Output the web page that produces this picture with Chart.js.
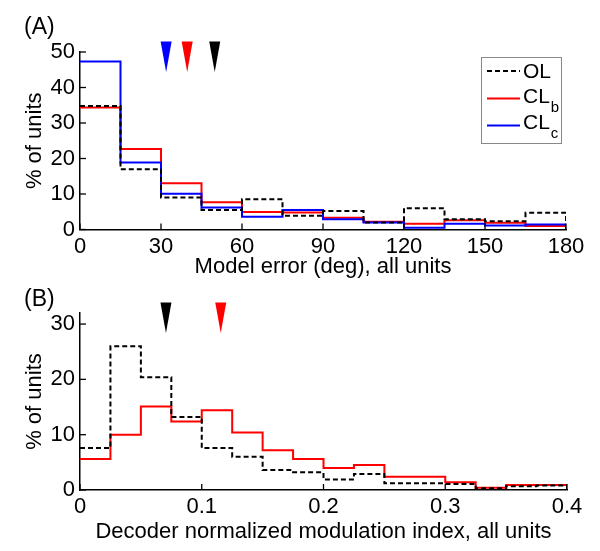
<!DOCTYPE html>
<html><head><meta charset="utf-8">
<script src="https://cdn.jsdelivr.net/npm/chart.js@4"></script>
<style>
html,body{margin:0;padding:0;background:#fff;overflow:hidden}
#ca{position:absolute;left:0;top:0}
#cb{position:absolute;left:0;top:284px}
</style>
</head><body>
<canvas id="ca" width="600" height="284"></canvas>
<canvas id="cb" width="600" height="267"></canvas>
<script>
// ---------- data ----------
const binEdgesA = [0,15,30,45,60,75,90,105,120,135,150,165,180];
const olA  = [34.8,17.0,9.0,5.5,8.5,3.9,5.2,2.0,6.0,2.9,2.3,4.7];
const clbA = [34.4,22.7,13.0,7.7,4.9,4.8,3.3,2.2,1.6,2.6,1.9,1.0];
const clcA = [47.3,18.9,10.1,6.2,3.6,5.5,2.9,2.0,0.5,1.6,1.1,1.4];
const medianA = [49.9,39.7,31.9];          // OL, CLb, CLc
const binEdgesB = [0,0.025,0.05,0.075,0.1,0.125,0.15,0.175,0.2,0.225,0.25,0.275,0.3,0.325,0.35,0.375,0.4];
const olB  = [7.6,26.0,20.4,13.2,7.6,6.0,3.6,3.2,1.9,2.9,1.2,1.2,1.1,0.3,0.7,0.8];
const clbB = [5.6,10.0,15.1,12.4,14.4,10.4,7.2,5.6,4.0,4.5,2.4,2.4,1.4,0.4,0.9,0.9];
const medianB = [0.0706,0.1156];           // OL, CLb
const ticksA_x = [0,30,60,90,120,150,180];
const ticksB_x = [0,0.1,0.2,0.3,0.4];

// ---------- helpers ----------
const FONT = "'Liberation Sans', Arial, sans-serif";
Chart.defaults.color = '#000';
Chart.defaults.font.family = FONT;
const COL = {OL:'#000000', CLb:'#ff0000', CLc:'#0000ff'};

function stairs(edges, vals){
  const pts = [];
  for (let i=0;i<vals.length;i++) pts.push({x:edges[i], y:vals[i]});
  pts.push({x:edges[edges.length-1], y:0});
  return pts;
}
function ds(label, edges, vals, color, dash){
  return {label, data: stairs(edges, vals), borderColor: color, borderWidth: 2,
    borderDash: dash?[5,3]:[], stepped: true, pointRadius: 0, fill: false, tension: 0};
}

const inwardTicks = {
  id: 'inwardTicks',
  afterDraw(chart){
    const {ctx, chartArea:a, scales:{x,y}} = chart;
    ctx.save(); ctx.strokeStyle='#000'; ctx.lineWidth=1.3;
    x.ticks.forEach(t=>{const p=x.getPixelForValue(t.value); ctx.beginPath(); ctx.moveTo(p,a.bottom); ctx.lineTo(p,a.bottom-6); ctx.stroke();});
    y.ticks.forEach(t=>{const p=y.getPixelForValue(t.value); ctx.beginPath(); ctx.moveTo(a.left,p); ctx.lineTo(a.left+6,p); ctx.stroke();});
    ctx.restore();
  }
};
const arrows = {
  id: 'arrows',
  afterDraw(chart, args, opts){
    const {ctx, chartArea:a, scales:{x}} = chart;
    ctx.save();
    opts.values.forEach((v,i)=>{
      const p = x.getPixelForValue(v);
      ctx.fillStyle = opts.colors[i];
      ctx.beginPath(); ctx.moveTo(p-5.5, a.top-10.5); ctx.lineTo(p+5.5, a.top-10.5); ctx.lineTo(p, a.top+20); ctx.closePath(); ctx.fill();
    });
    ctx.restore();
  }
};
const panelLabel = {
  id: 'panelLabel',
  afterDraw(chart, args, opts){
    const ctx = chart.ctx; ctx.save();
    ctx.font = '23px ' + FONT; ctx.fillStyle='#000'; ctx.textBaseline='middle'; ctx.textAlign='left';
    ctx.fillText(opts.text, 24, opts.y); ctx.restore();
  }
};
const customLegend = {
  id: 'customLegend',
  afterDraw(chart, args, opts){
    if (!opts.show) return;
    const ctx = chart.ctx; ctx.save();
    ctx.fillStyle='#fff'; ctx.fillRect(481,57,81,87);
    ctx.strokeStyle='#888'; ctx.lineWidth=1; ctx.strokeRect(481.5,57.5,80,86);
    const items = [
      {main:'OL', sub:'', color:COL.OL, dash:[5,3], ly:71, ty:72},
      {main:'CL', sub:'b', color:COL.CLb, dash:[], ly:98.5, ty:97},
      {main:'CL', sub:'c', color:COL.CLc, dash:[], ly:125.5, ty:123}
    ];
    items.forEach(it=>{
      ctx.strokeStyle=it.color; ctx.lineWidth=2; ctx.setLineDash(it.dash);
      ctx.beginPath(); ctx.moveTo(487,it.ly); ctx.lineTo(520,it.ly); ctx.stroke(); ctx.setLineDash([]);
      ctx.fillStyle='#000'; ctx.textBaseline='middle'; ctx.textAlign='left';
      ctx.font='21px '+FONT; ctx.fillText(it.main, 523, it.ty);
      if (it.sub){ const w=ctx.measureText(it.main).width; ctx.font='15px '+FONT; ctx.fillText(it.sub, 523+w+1, it.ty+11); }
    });
    ctx.restore();
  }
};

function makeChart(canvas, cfg){
  return new Chart(canvas, {
    type: 'line',
    data: {datasets: cfg.datasets},
    options: {
      responsive: false, animation: false, devicePixelRatio: 1,
      layout: {padding: {top: cfg.padTop, right: cfg.padRight, left: 0, bottom: 0}},
      plugins: {legend:{display:false}, tooltip:{enabled:false},
        arrows: cfg.arrows, panelLabel: cfg.label, customLegend: {show: cfg.legend}},
      scales: {
        x: {type:'linear', min: cfg.xmin, max: cfg.xmax,
          afterBuildTicks: s => { s.ticks = cfg.xticks.map(v=>({value:v})); },
          ticks: {font:{size:22}, color:'#000', padding:4, maxRotation:0, autoSkip:false,
            callback: v => String(Math.round(v*100)/100)},
          grid: {display:false, drawTicks:false},
          border: {display:true, color:'#000', width:1.5},
          title: {display:true, text: cfg.xtitle, font:{size:22}, color:'#000', padding:{top:0,bottom:cfg.xtitlePad}},
          afterFit: s => { s.height = cfg.xHeight; }
        },
        y: {type:'linear', min: 0, max: cfg.ymax,
          ticks: {stepSize:10, includeBounds:false, font:{size:22}, color:'#000', padding:5},
          grid: {display:false, drawTicks:false},
          border: {display:true, color:'#000', width:1.5},
          title: {display:true, text:'% of units', font:{size:22}, color:'#000', padding:{top:22,bottom:0}},
          afterFit: s => { s.width = 80; }
        }
      }
    },
    plugins: [inwardTicks, arrows, panelLabel, customLegend]
  });
}

makeChart(document.getElementById('ca'), {
  datasets: [ds('OL', binEdgesA, olA, COL.OL, true), ds('CLc', binEdgesA, clcA, COL.CLc, false), ds('CLb', binEdgesA, clbA, COL.CLb, false)],
  padTop: 52, padRight: 34, xmin: 0, xmax: 180, ymax: 50, xticks: ticksA_x,
  xtitle: 'Model error (deg), all units', xtitlePad: 4, xHeight: 54.5,
  arrows: {values: medianA, colors: [COL.OL, COL.CLb, COL.CLc]},
  label: {text:'(A)', y: 28}, legend: true
});
makeChart(document.getElementById('cb'), {
  datasets: [ds('OL', binEdgesB, olB, COL.OL, true), ds('CLb', binEdgesB, clbB, COL.CLb, false)],
  padTop: 29, padRight: 33, xmin: 0, xmax: 0.4, ymax: 32, xticks: ticksB_x,
  xtitle: 'Decoder normalized modulation index, all units', xtitlePad: 6, xHeight: 61,
  arrows: {values: medianB, colors: [COL.OL, COL.CLb]},
  label: {text:'(B)', y: 16}, legend: false
});
</script>
</body></html>
